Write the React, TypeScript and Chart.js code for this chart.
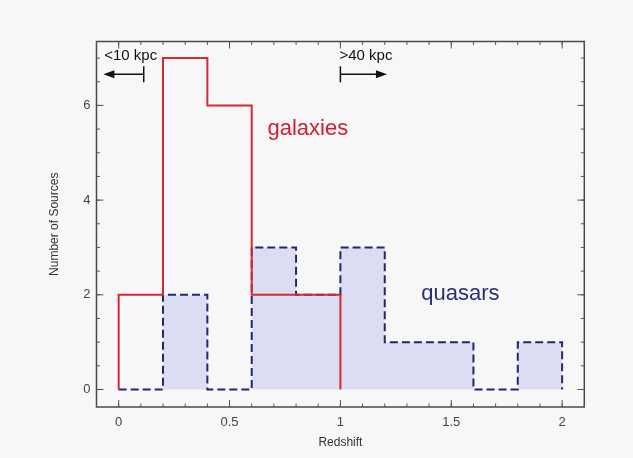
import React, { useEffect, useRef } from 'react';
import { Chart, registerables } from 'chart.js';

Chart.register(...registerables);

// ---- data ----
const binEdges = [0, 0.2, 0.4, 0.6, 0.8, 1.0, 1.2, 1.4, 1.6, 1.8, 2.0];
const galaxyCounts = [2, 7, 6, 2, 2];
const quasarCounts = [0, 2, 0, 3, 2, 3, 1, 1, 0, 1];
const xTickValues = [0, 0.5, 1, 1.5, 2];
const yTickValues = [0, 2, 4, 6];
const xRange = [-0.1, 2.1];
const yRange = [-0.37, 7.35];
const xMinorStep = 0.1;
const yMinorStep = 0.5;

// annotations (data coordinates)
const seriesLabels = [
  { text: 'galaxies', x: 0.671, y: 5.38, color: '#cf2230' },
  { text: 'quasars', x: 1.365, y: 1.89, color: '#2e2e78' },
];
const kpcLabels = [
  { text: '<10 kpc', x: -0.065, y: 6.96 },
  { text: '>40 kpc', x: 0.996, y: 6.96 },
];
const kpcArrows = [
  { from: 0.113, to: -0.069, y: 6.66 },
  { from: 1.0, to: 1.21, y: 6.66 },
];

const FONT = '"Liberation Sans", Arial, Helvetica, sans-serif';

function histPoints(counts: number[]) {
  const pts: { x: number; y: number }[] = [{ x: binEdges[0], y: 0 }];
  counts.forEach((c, i) => pts.push({ x: binEdges[i], y: c }));
  pts.push({ x: binEdges[counts.length], y: 0 });
  return pts;
}

const framePlugin = {
  id: 'frameAndNotes',
  afterDatasetsDraw(chart: any) {
    const { ctx, chartArea: a, scales } = chart;
    const xs = scales.x;
    const ys = scales.y;
    ctx.save();
    // frame
    ctx.strokeStyle = '#4a4a4a';
    ctx.lineWidth = 1.5;
    ctx.strokeRect(a.left, a.top, a.right - a.left, a.bottom - a.top);
    // ticks
    ctx.lineWidth = 1;
    ctx.strokeStyle = '#555';
    const drawX = (v: number, len: number) => {
      const px = xs.getPixelForValue(v);
      ctx.beginPath();
      ctx.moveTo(px, a.bottom);
      ctx.lineTo(px, a.bottom - len);
      ctx.moveTo(px, a.top);
      ctx.lineTo(px, a.top + len);
      ctx.stroke();
    };
    const drawY = (v: number, len: number) => {
      const py = ys.getPixelForValue(v);
      ctx.beginPath();
      ctx.moveTo(a.left, py);
      ctx.lineTo(a.left + len, py);
      ctx.moveTo(a.right, py);
      ctx.lineTo(a.right - len, py);
      ctx.stroke();
    };
    for (let k = Math.ceil(xRange[0] / xMinorStep); k * xMinorStep <= xRange[1] + 1e-9; k++) {
      drawX(k * xMinorStep, 3.5);
    }
    xTickValues.forEach((v) => drawX(v, 7));
    for (let k = Math.ceil(yRange[0] / yMinorStep); k * yMinorStep <= yRange[1] + 1e-9; k++) {
      drawY(k * yMinorStep, 3.5);
    }
    yTickValues.forEach((v) => drawY(v, 7));

    // series labels
    ctx.textBaseline = 'alphabetic';
    ctx.textAlign = 'left';
    ctx.font = `22px ${FONT}`;
    seriesLabels.forEach((l) => {
      ctx.fillStyle = l.color;
      ctx.fillText(l.text, xs.getPixelForValue(l.x), ys.getPixelForValue(l.y));
    });
    // kpc labels
    ctx.font = `15px ${FONT}`;
    ctx.fillStyle = '#111';
    kpcLabels.forEach((l) => {
      ctx.fillText(l.text, xs.getPixelForValue(l.x), ys.getPixelForValue(l.y));
    });
    // arrows
    ctx.strokeStyle = '#111';
    ctx.fillStyle = '#111';
    ctx.lineWidth = 1.5;
    kpcArrows.forEach((ar) => {
      const x0 = xs.getPixelForValue(ar.from);
      const x1 = xs.getPixelForValue(ar.to);
      const py = ys.getPixelForValue(ar.y);
      const dir = Math.sign(x1 - x0);
      ctx.beginPath();
      ctx.moveTo(x0, py - 8);
      ctx.lineTo(x0, py + 8);
      ctx.moveTo(x0, py);
      ctx.lineTo(x1 - dir * 8, py);
      ctx.stroke();
      ctx.beginPath();
      ctx.moveTo(x1, py);
      ctx.lineTo(x1 - dir * 11, py - 4);
      ctx.lineTo(x1 - dir * 11, py + 4);
      ctx.closePath();
      ctx.fill();
    });
    ctx.restore();
  },
};

export default function App() {
  const canvasRef = useRef<HTMLCanvasElement | null>(null);

  useEffect(() => {
    if (!canvasRef.current) return;
    const chart = new Chart(canvasRef.current, {
      type: 'line',
      data: {
        datasets: [
          {
            label: 'galaxies',
            data: histPoints(galaxyCounts),
            stepped: 'before',
            borderColor: '#d42a35',
            borderWidth: 2,
            pointRadius: 0,
            fill: false,
          },
          {
            label: 'quasars',
            data: histPoints(quasarCounts),
            stepped: 'before',
            borderColor: '#26266e',
            borderWidth: 2,
            borderDash: [8, 4],
            backgroundColor: '#dcdcf3',
            pointRadius: 0,
            fill: 'origin',
          },
        ],
      },
      options: {
        animation: false,
        responsive: true,
        maintainAspectRatio: false,
        layout: { padding: { left: 43.3, top: 41.5, right: 48.7, bottom: 4.1 } },
        plugins: { legend: { display: false }, tooltip: { enabled: false } },
        scales: {
          x: {
            type: 'linear',
            min: xRange[0],
            max: xRange[1],
            afterBuildTicks: (s: any) => {
              s.ticks = xTickValues.map((v) => ({ value: v }));
            },
            afterFit: (s: any) => {
              s.height = 46.9;
            },
            grid: { display: false, drawTicks: false },
            border: { display: false },
            ticks: {
              padding: 8,
              color: '#444',
              font: { size: 13, family: FONT },
              maxRotation: 0,
              callback: (v: any) => String(v),
            },
            title: {
              display: true,
              text: 'Redshift',
              color: '#333',
              font: { size: 12, family: FONT },
              padding: { top: 4, bottom: 4 },
            },
          },
          y: {
            type: 'linear',
            min: yRange[0],
            max: yRange[1],
            afterBuildTicks: (s: any) => {
              s.ticks = yTickValues.map((v) => ({ value: v }));
            },
            afterFit: (s: any) => {
              s.width = 53.2;
            },
            grid: { display: false, drawTicks: false },
            border: { display: false },
            ticks: {
              padding: 6,
              color: '#444',
              font: { size: 13, family: FONT },
              callback: (v: any) => String(v),
            },
            title: {
              display: true,
              text: 'Number of Sources',
              color: '#333',
              font: { size: 12, family: FONT },
              padding: { top: 4, bottom: 4 },
            },
          },
        },
      },
      plugins: [framePlugin],
    });
    return () => chart.destroy();
  }, []);

  return (
    <div
      style={{
        position: 'absolute',
        left: 0,
        top: 0,
        width: 633,
        height: 458,
        background: '#f7f7f7',
      }}
    >
      <canvas ref={canvasRef} />
    </div>
  );
}
